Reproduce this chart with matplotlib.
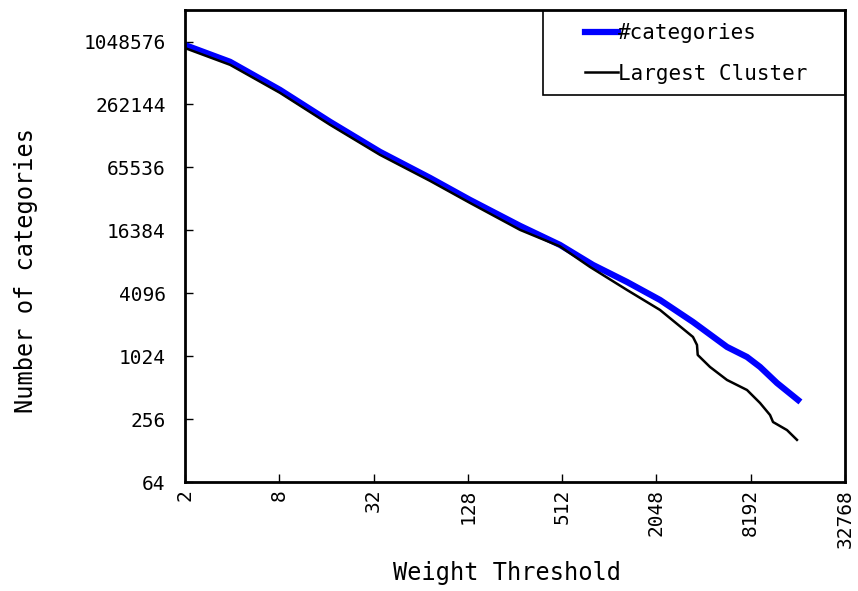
import numpy as np
import matplotlib.pyplot as plt
from matplotlib.patches import Rectangle

plt.rcParams['font.family'] = ['DejaVu Sans Mono']

# valores
x_cat = [2.06, 3.88, 8.08, 16.9, 35.2, 73.4, 132, 276, 496, 806, 1329, 2159,
         3507, 5784, 7760, 9400, 12060, 16430]
y_cat = [954000, 670600, 361500, 178700, 92230, 52000, 32030, 18060, 11880,
         7643, 5253, 3534, 2175, 1255, 1006, 808, 567, 390]

x_big = [2.06, 3.88, 8.08, 16.9, 35.2, 73.4, 132, 276, 496, 771, 1329, 2159,
         3507, 3720, 3760, 4505, 5784, 7760, 9400, 10890, 11380, 13970, 16180]
y_big = [892800, 627600, 338600, 167200, 86290, 48690, 29970, 16530, 11500,
         7312, 4403, 2835, 1563, 1311, 1052, 807, 606, 486, 365, 280, 240,
         201, 162]

ticks_x = [2, 8, 32, 128, 512, 2048, 8192, 32768]
ticks_y = [64, 256, 1024, 4096, 16384, 65536, 262144, 1048576]

fig = plt.figure(figsize=(8.58, 5.91), dpi=100)
ax = fig.add_axes([0.2156, 0.1844, 0.7692, 0.7986])

ax.plot(x_cat, y_cat, color='blue', lw=4.5, label='#categories')
ax.plot(x_big, y_big, color='black', lw=1.8, label='Largest Cluster')

ax.set_xscale('log', base=2)
ax.set_yscale('log', base=2)
ax.set_xlim(2, 32768)
ax.set_ylim(64, 2 ** 21)
ax.set_xticks(ticks_x)
ax.set_xticklabels([str(t) for t in ticks_x], rotation=90)
ax.set_yticks(ticks_y)
ax.set_yticklabels([str(t) for t in ticks_y])
ax.minorticks_off()
ax.tick_params(direction='in', length=6, width=1, labelsize=14)
ax.tick_params(axis='x', pad=5)
ax.tick_params(axis='y', pad=14)

for s in ax.spines.values():
    s.set_linewidth(2)

ax.set_xlabel('Weight Threshold', fontsize=17)
ax.set_ylabel('Number of categories', fontsize=17)
ax.xaxis.set_label_coords(0.488, -0.168)
ax.yaxis.set_label_coords(-0.222, 0.449)

ax.add_patch(Rectangle((0.542, 0.82), 0.458, 0.18, transform=ax.transAxes,
                       fill=False, edgecolor='black', lw=1.2, zorder=5))
ax.legend(loc='upper left', bbox_to_anchor=(0.591, 0.995), frameon=False,
          fontsize=15, handlelength=1.55, handletextpad=0.0, borderpad=0,
          labelspacing=1.0)

plt.savefig('out.png')
